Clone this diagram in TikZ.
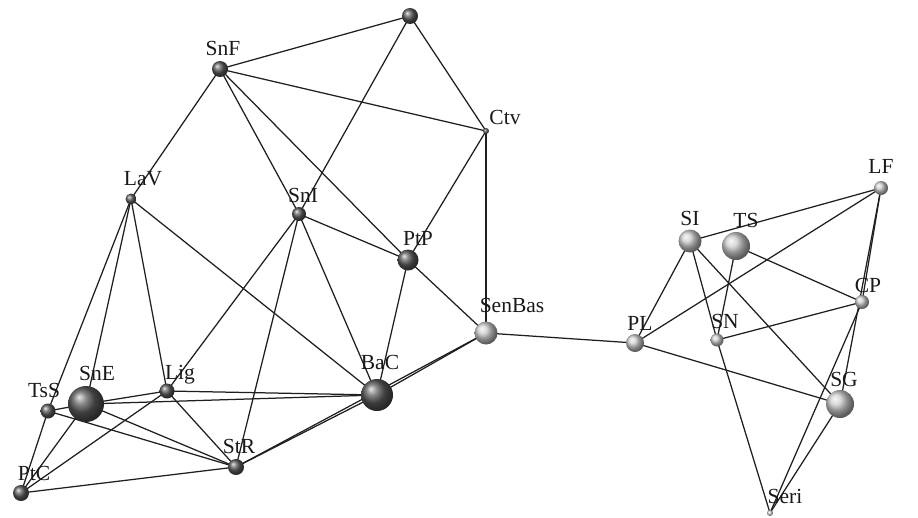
\documentclass[tikz,border=0pt]{standalone}
\usepackage{fontspec}
\setmainfont{Liberation Serif}
\usetikzlibrary{backgrounds}
\begin{document}
\begin{tikzpicture}[x=1pt,y=-1pt,
  darkball/.style={circle, inner sep=0pt, minimum size=#1, shading=ball, ball color=black!65},
  lightball/.style={circle, inner sep=0pt, minimum size=#1, shading=ball, ball color=black!20},
  link/.style={line width=1.25pt, draw=black!88},
  lbl/.style={anchor=base, inner sep=0pt, font=\fontsize{21.5}{21.5}\selectfont, text=black!90}]
\useasboundingbox (0,0) rectangle (918,517);

% spheres of the left group
\node[darkball=16pt] (top) at (410,16) {};
\node[darkball=16pt] (SnF) at (220,69) {};
\node[darkball=6pt]  (Ctv) at (486,131) {};
\node[darkball=11pt] (LaV) at (131,199) {};
\node[darkball=14pt] (SnI) at (299,214) {};
\node[darkball=21pt] (PtP) at (408,260) {};
\node[lightball=23pt] (SenBas) at (486,333) {};
\node[darkball=32pt] (BaC) at (377,395) {};
\node[darkball=15pt] (Lig) at (167,391) {};
\node[darkball=36pt] (SnE) at (86,404) {};
\node[darkball=15pt] (TsS) at (48,411) {};
\node[darkball=16pt] (StR) at (236,467) {};
\node[darkball=16pt] (PtC) at (21,493) {};

% spheres of the right group
\node[lightball=18pt] (PL) at (635,343) {};
\node[lightball=23pt] (SI) at (690,241) {};
\node[lightball=28pt] (TS) at (736,246) {};
\node[lightball=14pt] (LF) at (881,188) {};
\node[lightball=14pt] (CP) at (862,302) {};
\node[lightball=13pt] (SN) at (717,340) {};
\node[lightball=28pt] (SG) at (840,404) {};
\node[lightball=6pt]  (Seri) at (770,513) {};

% labels
\node[lbl] (tSnF) at (223,55) {SnF};
\node[lbl] (tCtv) at (505,124) {Ctv};
\node[lbl] (tLaV) at (143,185) {LaV};
\node[lbl] (tSnI) at (303,202) {SnI};
\node[lbl] (tPtP) at (418,245) {PtP};
\node[lbl] (tSenBas) at (512,312) {SenBas};
\node[lbl] (tBaC) at (380,369) {BaC};
\node[lbl] (tLig) at (180,379) {Lig};
\node[lbl] (tSnE) at (97,380) {SnE};
\node[lbl] (tTsS) at (44,397) {TsS};
\node[lbl] (tStR) at (239,453) {StR};
\node[lbl] (tPtC) at (34,480) {PtC};
\node[lbl] (tPL) at (640,330) {PL};
\node[lbl] (tSI) at (690,225) {SI};
\node[lbl] (tTS) at (746,227) {TS};
\node[lbl] (tLF) at (881,173) {LF};
\node[lbl] (tCP) at (868,292) {CP};
\node[lbl] (tSN) at (725,328) {SN};
\node[lbl] (tSG) at (844,386) {SG};
\node[lbl] (tSeri) at (785,503) {Seri};

% connections, kept behind the spheres
\begin{scope}[on background layer]
\foreach \a/\b in {top/SnF, top/SnI, top/Ctv, SnF/Ctv, SnF/LaV, SnF/SnI, SnF/PtP,
  Ctv/PtP, Ctv/SenBas, SnI/PtP, SnI/Lig, SnI/StR, SnI/BaC, PtP/SenBas, PtP/BaC,
  LaV/TsS, LaV/SnE, LaV/Lig, LaV/BaC, TsS/SnE, TsS/PtC, TsS/StR, SnE/Lig, SnE/BaC,
  SnE/StR, SnE/PtC, Lig/BaC, Lig/StR, Lig/PtC, PtC/StR, StR/BaC, StR/SenBas,
  BaC/SenBas, SenBas/PL,
  PL/SI, PL/LF, PL/SG, SI/LF, SI/SN, SI/SG, TS/SN, TS/CP, SN/CP, SN/Seri,
  LF/CP, LF/SG, CP/Seri, SG/Seri}
  \draw[link] (\a.center) -- (\b.center);
\end{scope}
\end{tikzpicture}
\end{document}
